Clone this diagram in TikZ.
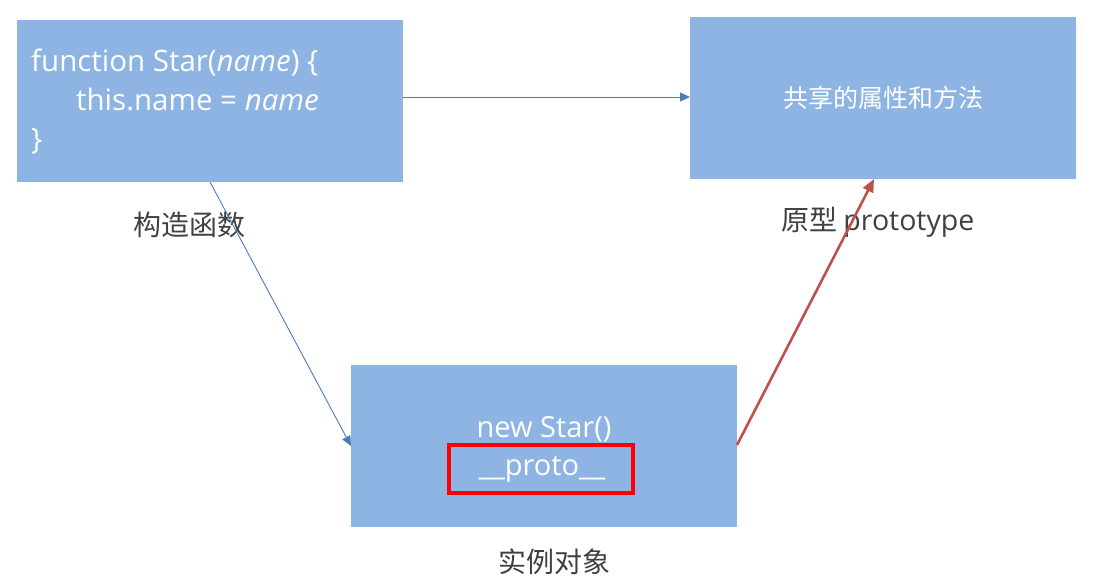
\documentclass[tikz,border=0pt]{standalone}
\usepackage{fontspec}
\setmainfont{Open Sans}
\newfontfamily\cjk{Noto Sans CJK SC}
\usetikzlibrary{arrows.meta}
\definecolor{boxfill}{RGB}{142,180,227}
\definecolor{linkblue}{RGB}{74,126,187}
\definecolor{linkred}{RGB}{192,80,77}
\definecolor{labelgray}{RGB}{64,64,64}
\begin{document}
\begin{tikzpicture}[x=1pt,y=-1pt,
  bluebox/.style={fill=boxfill,draw=none,minimum width=386pt,minimum height=162pt,inner sep=0pt},
  boxtext/.style={text=white,font=\fontsize{29.5}{39}\selectfont,inner sep=0pt},
  cjklabel/.style={text=labelgray,font=\cjk\fontsize{28}{30}\selectfont,inner sep=0pt},
  bluelink/.style={draw=linkblue,line width=0.9pt,-{Triangle[length=10pt,width=9pt]}},
  redlink/.style={draw=linkred,line width=2.6pt,-{Triangle[length=13pt,width=11pt]}}]
\useasboundingbox (0,0) rectangle (1111,581);
\node[bluebox] (ctor) at (210,101) {};
\node[bluebox] (proto) at (883,98) {};
\node[bluebox] (inst) at (544,445.5) {};
\node[boxtext,anchor=west,align=left] (code) at (31,102) {function Star(\textit{name}) \{\\\hspace*{45pt}this.name = \textit{name}\\\}};
\node[text=white,font=\cjk\fontsize{25}{28}\selectfont,inner sep=0pt] (share) at (883,98) {共享的属性和方法};
\node[boxtext,font=\fontsize{29}{30}\selectfont] (newstar) at (544,429) {new Star()};
\node[draw=red,line width=4pt,minimum width=184pt,minimum height=48pt,inner sep=0pt] (redbox) at (540.5,468.5) {};
\node[boxtext,font=\fontsize{29}{30}\selectfont] (protoprop) at (542,469) {\_\_proto\_\_};
\node[cjklabel] (lctor) at (189,225) {构造函数};
\node[cjklabel,anchor=west] (lproto) at (781,222) {原型 {\fontspec{Open Sans}\fontsize{28.5}{30}\selectfont prototype}};
\node[cjklabel] (linst) at (554,562) {实例对象};
\coordinate (a1) at (403,97);
\coordinate (a2) at (690,97);
\coordinate (b1) at (210,182);
\coordinate (b2) at (351,446);
\coordinate (c1) at (737,445);
\coordinate (c2) at (874,179);
\draw[bluelink] (a1) -- (a2);
\draw[bluelink] (b1) -- (b2);
\draw[redlink] (c1) -- (c2);
\end{tikzpicture}
\end{document}
